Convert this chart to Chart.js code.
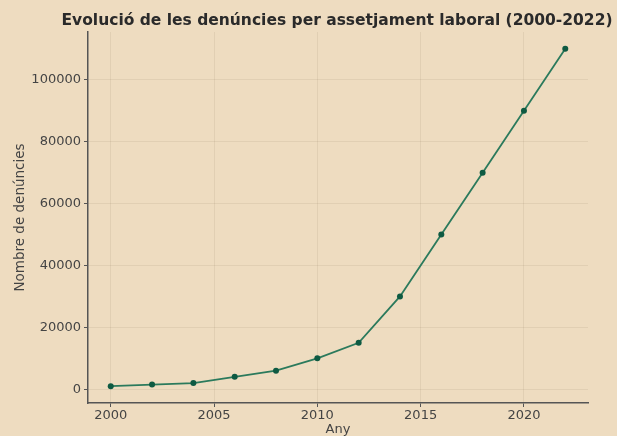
<!DOCTYPE html>
<html>
<head>
<meta charset="utf-8">
<script src="https://cdn.jsdelivr.net/npm/chart.js@4/dist/chart.umd.min.js"></script>
<style>
  html, body { margin: 0; padding: 0; background: #EEDCC0; }
  #wrap { width: 617px; height: 436px; position: relative; }
</style>
</head>
<body>
<div id="wrap"><canvas id="c" width="617" height="436"></canvas></div>
<script>
const titleText = "Evolució de les denúncies per assetjament laboral (2000-2022)";
const xAxisLabel = "Any";
const yAxisLabel = "Nombre de denúncies";
const years = [2000, 2002, 2004, 2006, 2008, 2010, 2012, 2014, 2016, 2018, 2020, 2022];
const complaints = [1000, 1500, 2000, 4000, 6000, 10000, 15000, 30000, 50000, 70000, 90000, 110000];
const xTicks = [2000, 2005, 2010, 2015, 2020];
const yTicks = [0, 20000, 40000, 60000, 80000, 100000];

const bg = '#EEDCC0';

const bgPlugin = {
  id: 'bg',
  beforeDraw(chart) {
    const ctx = chart.ctx;
    ctx.save();
    ctx.fillStyle = bg;
    ctx.fillRect(0, 0, chart.width, chart.height);
    ctx.restore();
  }
};

const titlePlugin = {
  id: 'plotTitle',
  afterDraw(chart) {
    const ctx = chart.ctx;
    const a = chart.chartArea;
    ctx.save();
    ctx.font = 'bold 15.5px "DejaVu Sans"';
    ctx.fillStyle = '#2a2a2a';
    ctx.textAlign = 'center';
    ctx.textBaseline = 'alphabetic';
    ctx.fillText(titleText, (a.left + a.right) / 2 - 1, 25);
    ctx.restore();
  }
};

const xMin = 1998.9, xMax = 2023.1;
const yMin = -4450, yMax = 115450;

new Chart(document.getElementById('c'), {
  type: 'line',
  data: {
    datasets: [{
      data: years.map((y, i) => ({ x: y, y: complaints[i] })),
      borderColor: '#2b7a5c',
      borderWidth: 1.8,
      pointBackgroundColor: '#0e5a42',
      pointBorderColor: '#0e5a42',
      pointRadius: 3,
      pointBorderWidth: 0,
      tension: 0,
      fill: false
    }]
  },
  options: {
    responsive: false,
    animation: false,
    devicePixelRatio: 1,
    layout: { padding: { top: 32, right: 29, left: 0, bottom: 0 } },
    plugins: {
      legend: { display: false },
      tooltip: { enabled: false },
      title: { display: false }
    },
    scales: {
      x: {
        type: 'linear',
        min: xMin, max: xMax,
        afterBuildTicks(s) { s.ticks = xTicks.map(v => ({ value: v })); },
        afterFit(s) { s.height = 33; },
        ticks: {
          callback: v => String(v),
          font: { family: 'DejaVu Sans', size: 13 },
          color: '#444',
          padding: 1,
          maxRotation: 0
        },
        grid: {
          color: 'rgba(120,100,70,0.10)',
          lineWidth: 1,
          tickLength: 4,
          tickColor: '#555',
          drawOnChartArea: true
        },
        border: { display: true, color: '#555', width: 1.5 },
        title: {
          display: true,
          text: xAxisLabel,
          font: { family: 'DejaVu Sans', size: 13, lineHeight: 1 },
          color: '#444',
          padding: { top: 0, bottom: 0 }
        }
      },
      y: {
        type: 'linear',
        min: yMin, max: yMax,
        afterBuildTicks(s) { s.ticks = yTicks.map(v => ({ value: v })); },
        afterFit(s) { s.width = 88; },
        ticks: {
          callback: v => String(v),
          font: { family: 'DejaVu Sans', size: 13 },
          color: '#444',
          padding: 3
        },
        grid: {
          color: 'rgba(120,100,70,0.10)',
          lineWidth: 1,
          tickLength: 4,
          tickColor: '#555'
        },
        border: { display: true, color: '#555', width: 1.5 },
        title: {
          display: true,
          text: yAxisLabel,
          font: { family: 'DejaVu Sans', size: 13.5, lineHeight: 1 },
          color: '#444',
          padding: { top: 14, bottom: 0 }
        }
      }
    }
  },
  plugins: [bgPlugin, titlePlugin]
});
</script>
</body>
</html>
